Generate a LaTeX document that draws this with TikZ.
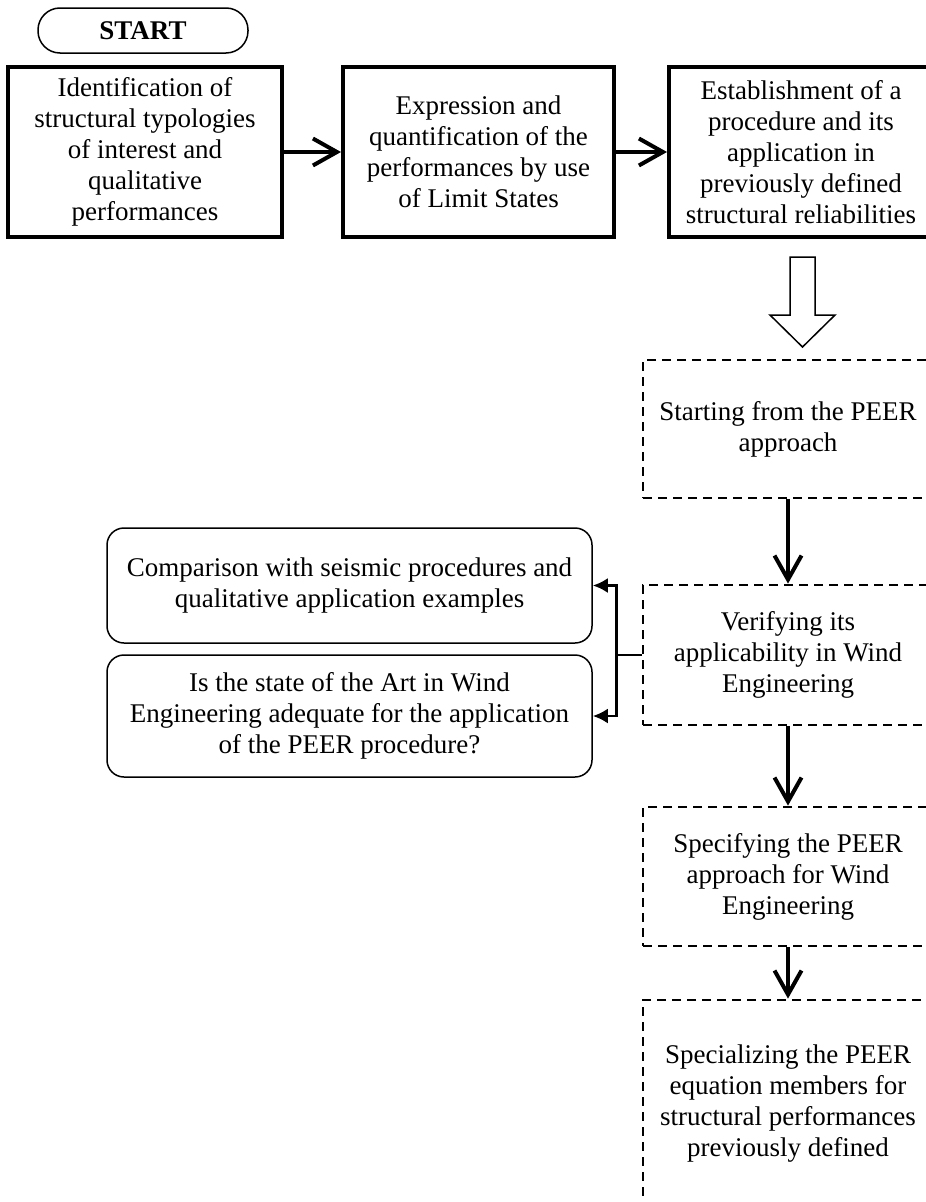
\documentclass[tikz,border=0pt]{standalone}
\usepackage{fontspec}
\setmainfont{Liberation Serif}
\usetikzlibrary{arrows.meta}
\begin{document}
\begin{tikzpicture}[x=1pt,y=-1pt,
  txt/.style={font=\fontsize{27}{31}\selectfont, align=center, inner sep=0pt},
  thickbox/.style={txt, draw, line width=4pt, minimum height=170pt},
  dashbox/.style={txt, draw, line width=2.8pt, dash pattern=on 9pt off 6pt, minimum width=290pt},
  roundbox/.style={txt, draw, line width=1.5pt, rounded corners=17pt, minimum width=485pt},
  startbox/.style={txt, draw, line width=1.5pt, rounded corners=22pt, minimum width=210pt, minimum height=45pt, font=\bfseries\fontsize{27}{31}\selectfont},
  flow/.style={line width=4pt, -{Straight Barb[length=24pt,width=27pt]}},
  side/.style={line width=2.8pt, -{Latex[length=15pt,width=15pt]}},
  hollow/.style={line width=1.5pt, fill=white, line join=miter},
]
\clip (0,0) rectangle (926,1202);
\fill[white] (0,0) rectangle (926,1202);

\node[startbox] (start) at (143,30.5) {START};

\node[thickbox, minimum width=274pt] (b1) at (145,152) {Identification of\\structural typologies\\of interest and\\qualitative\\performances};
\node[thickbox, minimum width=271pt] (b2) at (478.5,152) {Expression and\\quantification of the\\performances by use\\of Limit States};
\node[thickbox, minimum width=264pt] (b3) at (801,152) {Establishment of a\\procedure and its\\application in\\previously defined\\structural reliabilities};

\draw[flow] (b1) -- (b2);
\draw[flow] (b2) -- (b3);

\draw[hollow] (790,257) -- (790,315) -- (770,315) -- (802.5,347) -- (835,315) -- (815,315) -- (815,257) -- cycle;

\node[dashbox, minimum height=138pt] (d1) at (788,429) {Starting from the PEER\\approach};
\node[dashbox, minimum height=140pt] (d2) at (788,655) {Verifying its\\applicability in Wind\\Engineering};
\node[dashbox, minimum height=139pt] (d3) at (788,876.5) {Specifying the PEER\\approach for Wind\\Engineering};
\node[dashbox, minimum height=208pt] (d4) at (788,1104) {Specializing the PEER\\equation members for\\structural performances\\previously defined};

\draw[flow] (d1) -- (d2);
\draw[flow] (d2) -- (d3);
\draw[flow] (d3) -- (d4);

\node[roundbox, minimum height=115pt] (r1) at (349.5,585.5) {Comparison with seismic procedures and\\qualitative application examples};
\node[roundbox, minimum height=122pt] (r2) at (349.5,716) {Is the state of the Art in Wind\\Engineering adequate for the application\\of the PEER procedure?};

\draw[line width=2.8pt] (d2.west) -- ++(-25,0) coordinate (j);
\draw[side] (j) |- (r1);
\draw[side] (j) |- (r2);
\end{tikzpicture}
\end{document}
